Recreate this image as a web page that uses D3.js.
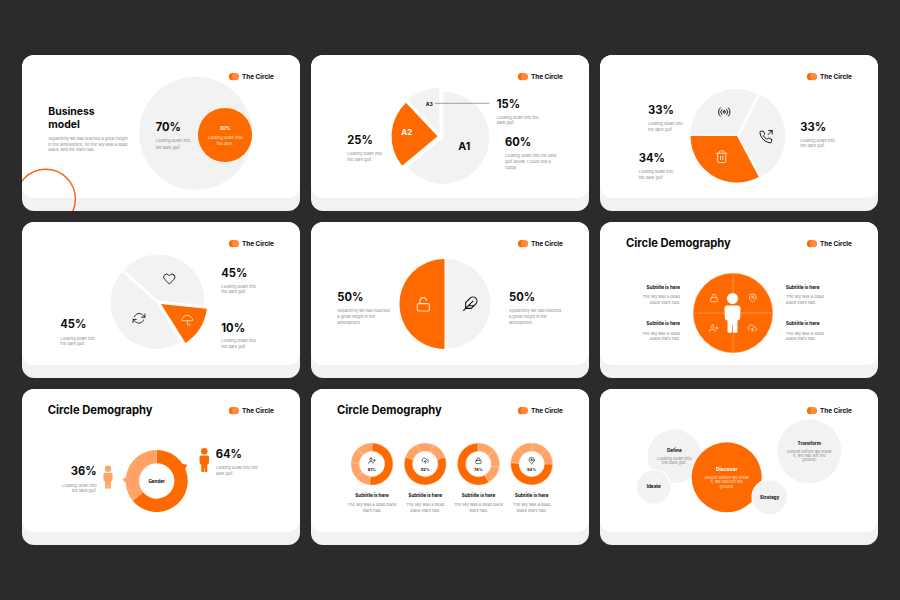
<!DOCTYPE html>
<html>
<head>
<meta charset="utf-8">
<script src="https://cdn.jsdelivr.net/npm/d3@7"></script>
<style>
  html, body { margin: 0; background: #2b2b2b; }
  svg { display: block; }
  text { font-family: Inter, "Noto Sans", sans-serif; }
</style>
</head>
<body>
<div id="chart"></div>
<script>
// values. slice shares are the drawn sweep, which is not
// always the same as the printed percentage
const businessShares = [100, 23];
const businessLabels = ["70%", "30%"];
const abcShares = [64, 24, 12];
const abcNames = ["A1", "A2", "A3"];
const abcLabels = ["60%", "25%", "15%"];
const threeShares = [32.5, 34.7, 32.8];
const threeLabels = ["33%", "33%", "34%"];
const heartShares = [40, 14.4, 45.6];
const heartLabels = ["45%", "10%", "45%"];
const halfShares = [50, 50];
const halfLabels = ["50%", "50%"];
const quarterShares = [25, 25, 25, 25];
const genderShares = [64, 36];
const genderLabels = ["64%", "36%"];
const ringStarts = [0, 70, 150, 90];
const ringSlices = [
  [52, 12, 12, 12, 12],
  [61, 13, 13, 13],
  [58, 14, 14, 14],
  [51, 12.25, 12.25, 12.25, 12.25]
];
const ringLabels = ["61%", "52%", "74%", "54%"];
const bubbleNames = ["Define", "Ideate", "Discover", "Strategy", "Transform"];
const bubbleWeights = [713, 300, 1225, 313, 1024];

const ORANGE = "#ff6a00", LIGHT = "#ffa366", GREY = "#f2f2f2", INK = "#0a0a0a", MUTED = "#8a8a8a";

const colX = [22, 311, 600];
const rowY = [55, 222, 389];

const ICONS = {
  heart: "M20.84 4.61a5.5 5.5 0 0 0-7.78 0L12 5.67l-1.06-1.06a5.5 5.5 0 0 0-7.78 7.78l1.06 1.06L12 21.23l7.78-7.78 1.06-1.06a5.5 5.5 0 0 0 0-7.78z",
  phone: "M23 7 23 1 17 1M16 8 23 1M22 16.92v3a2 2 0 0 1-2.18 2 19.79 19.79 0 0 1-8.63-3.07 19.5 19.5 0 0 1-6-6 19.79 19.79 0 0 1-3.07-8.67A2 2 0 0 1 4.11 2h3a2 2 0 0 1 2 1.72 12.84 12.84 0 0 0 .7 2.81 2 2 0 0 1-.45 2.11L8.09 9.91a16 16 0 0 0 6 6l1.27-1.27a2 2 0 0 1 2.11-.45 12.84 12.84 0 0 0 2.81.7A2 2 0 0 1 22 16.92z",
  trash: "M3 6h18M19 6v14a2 2 0 0 1-2 2H7a2 2 0 0 1-2-2V6m3 0V4a2 2 0 0 1 2-2h4a2 2 0 0 1 2 2v2M10 11v6M14 11v6",
  lock: "M5 11h14a2 2 0 0 1 2 2v7a2 2 0 0 1-2 2H5a2 2 0 0 1-2-2v-7a2 2 0 0 1 2-2zM7 11V7a5 5 0 0 1 10 0v4",
  unlock: "M5 11h14a2 2 0 0 1 2 2v7a2 2 0 0 1-2 2H5a2 2 0 0 1-2-2v-7a2 2 0 0 1 2-2zM7 11V7a5 5 0 0 1 9.9-1",
  feather: "M20.24 12.24a6 6 0 0 0-8.49-8.49L5 10.5V19h8.5zM16 8 2 22M17.5 15H9",
  refresh: "M23 4v6h-6M1 20v-6h6M3.51 9a9 9 0 0 1 14.85-3.36L23 10M1 14l4.64 4.36A9 9 0 0 0 20.49 15",
  umbrella: "M23 12a11.05 11.05 0 0 0-22 0zm-5 7a3 3 0 0 1-6 0v-7",
  pin: "M21 10c0 7-9 13-9 13s-9-6-9-13a9 9 0 0 1 18 0zM12 7a3 3 0 1 0 0 6 3 3 0 0 0 0-6z",
  user: "M16 21v-2a4 4 0 0 0-4-4H5a4 4 0 0 0-4 4v2M8.5 3a4 4 0 1 0 0 8 4 4 0 0 0 0-8zM20 8v6M23 11h-6",
  cloud: "M16 16l-4-4-4 4M12 12v9M20.39 18.39A5 5 0 0 0 18 9h-1.26A8 8 0 1 0 3 16.3",
  radio: "M12 10a2 2 0 1 0 0 4 2 2 0 0 0 0-4zM16.24 7.76a6 6 0 0 1 0 8.49M7.76 16.24a6 6 0 0 1 0-8.49M19.07 4.93a10 10 0 0 1 0 14.14M4.93 19.07a10 10 0 0 1 0-14.14"
};

const svg = d3.select("#chart").append("svg").attr("width", 900).attr("height", 600);
const rad = d => d * Math.PI / 180;

function label(x, y, str, size, opts = {}) {
  return svg.append("text")
    .attr("x", x).attr("y", y)
    .attr("dominant-baseline", "central")
    .attr("text-anchor", opts.anchor || "start")
    .attr("font-size", size)
    .attr("font-weight", opts.weight || 400)
    .attr("fill", opts.fill || INK)
    .text(str);
}

// lines get their own y, the picture has uneven leading after downscaling
function body(x, ys, lines, opts = {}) {
  lines.forEach((l, i) => label(x, ys[i], l, opts.size || 4, { fill: MUTED, ...opts }));
}

function stat(x, y, str, anchor) {
  label(x, y, str, 11.2, { weight: 700, anchor });
}

function title(x, y) {
  label(x, y, "Circle Demography", 11.2, { weight: 700 });
}

function icon(name, x, y, size, color, width = 1.6) {
  const k = size / 24;
  svg.append("path")
    .attr("d", ICONS[name])
    .attr("transform", `translate(${x - size / 2},${y - size / 2}) scale(${k})`)
    .attr("fill", "none")
    .attr("stroke", color)
    .attr("stroke-width", width)
    .attr("stroke-linecap", "round")
    .attr("stroke-linejoin", "round");
}

// head at the origin, body below it
function person(x, y, k, color) {
  const g = svg.append("g").attr("transform", `translate(${x},${y}) scale(${k})`).attr("fill", color);
  g.append("circle").attr("r", 5.5);
  g.append("path").attr("d", "M-5 7H5Q8 7 8 10L7.6 20Q7 22 5 22L5 33.5Q2.5 35.5 .4 33.5L.4 27H-.4L-.4 33.5Q-2.5 35.5-5 33.5L-5 22Q-7 22-7.6 20L-8 10Q-8 7-5 7Z");
  return g;
}

function pie(cx, cy, radius, shares, start, colors, opts = {}) {
  const arcs = d3.pie().sort(null).value(d => d)
    .startAngle(rad(start)).endAngle(rad(start + 360))(shares);
  const arc = d3.arc().innerRadius(opts.inner || 0).outerRadius(radius);
  const explode = opts.explode || shares.map(() => 0);
  svg.append("g").attr("transform", `translate(${cx},${cy})`)
    .selectAll("path").data(arcs).join("path")
    .attr("d", arc)
    .attr("fill", (d, i) => colors[i])
    .attr("stroke", opts.stroke || "none")
    .attr("stroke-width", opts.strokeWidth || 0)
    .attr("transform", (d, i) => {
      const mid = (d.startAngle + d.endAngle) / 2;
      return `translate(${Math.sin(mid) * explode[i]},${-Math.cos(mid) * explode[i]})`;
    });
}

// cards
const defs = svg.append("defs");
rowY.forEach((y, r) => colX.forEach((x, c) => {
  svg.append("rect").attr("x", x).attr("y", y).attr("width", 278).attr("height", 156).attr("rx", 12).attr("fill", GREY);
  svg.append("rect").attr("x", x).attr("y", y).attr("width", 278).attr("height", 143).attr("rx", 12).attr("fill", "#fff");
  svg.append("circle").attr("cx", x + 210.5).attr("cy", y + 21.7).attr("r", 3.6).attr("fill", ORANGE);
  svg.append("circle").attr("cx", x + 213.5).attr("cy", y + 21.7).attr("r", 3.6).attr("fill", "#ff8a3c");
  label(x + 220, y + 21.7, "The Circle", 6.4, { weight: 700 });
}));

// card 1
defs.append("clipPath").attr("id", "card1").append("rect")
  .attr("x", colX[0]).attr("y", rowY[0]).attr("width", 278).attr("height", 156).attr("rx", 12);
svg.append("circle").attr("cx", 45.7).attr("cy", 199).attr("r", 29.7)
  .attr("fill", "none").attr("stroke", "#f2611a").attr("stroke-width", 1.4)
  .attr("clip-path", "url(#card1)");
label(48.3, 111.7, "Business", 10.4, { weight: 700 });
label(48.3, 124, "model", 10.4, { weight: 700 });
body(48.3, [138, 144, 149.7], ["Apparently we had reached a great height", "in the atmosphere, for the sky was a dead", "black, and the stars had."]);
const businessR = d3.scaleSqrt().domain([0, 100]).range([0, 56.5]);
svg.append("circle").attr("cx", 195.7).attr("cy", 133.3).attr("r", businessR(businessShares[0])).attr("fill", GREY);
svg.append("circle").attr("cx", 225).attr("cy", 135).attr("r", businessR(businessShares[1])).attr("fill", ORANGE);
stat(155.7, 127, businessLabels[0]);
body(155.7, [140.7, 147], ["Looking down into", "the dark gulf."]);
label(225, 128.3, businessLabels[1], 4.6, { weight: 700, fill: "#fff", anchor: "middle" });
body(225, [137.7, 143.7], ["Looking down into", "the dark."], { anchor: "middle", fill: "#ffe3cf" });

// card 2
pie(440.5, 136.5, 46, abcShares, 0, [GREY, ORANGE, GREY], { explode: [3, 3, 3] });
label(464.3, 146, abcNames[0], 10.6, { weight: 700, anchor: "middle" });
label(406.7, 131.7, abcNames[1], 8, { weight: 700, fill: "#fff", anchor: "middle" });
label(429.3, 103.7, abcNames[2], 5, { weight: 700, anchor: "middle" });
svg.append("line").attr("x1", 435).attr("x2", 489.3).attr("y1", 103.3).attr("y2", 103.3).attr("stroke", "#666").attr("stroke-width", .6);
stat(496.7, 103.7, abcLabels[2]);
body(496.7, [117, 122.7], ["Looking down into the", "dark gulf."]);
stat(347.3, 140, abcLabels[1]);
body(347.3, [153.3, 159], ["Looking down into", "the dark gulf."]);
stat(505, 142.3, abcLabels[0]);
body(505, [155.7, 161.7, 167.3], ["Looking down into the dark", "gulf below. I could see a", "ruddy."]);

// card 3
pie(737, 136, 46.5, threeShares, 270, [GREY, GREY, ORANGE], { explode: [0.6, 2, 0] });
icon("radio", 724.3, 112, 14, INK);
icon("phone", 765.7, 137, 14, INK);
icon("trash", 721.7, 156.7, 14, "#ffe3cf");
stat(648, 110, threeLabels[0]);
body(648, [123.7, 129.7], ["Looking down into", "the dark gulf."]);
stat(800.3, 126.7, threeLabels[1]);
body(800.3, [140, 145.7], ["Looking down into", "the dark gulf."]);
stat(638.7, 157.7, threeLabels[2]);
body(638.7, [171.3, 177], ["Looking down into", "the dark gulf."]);

// card 4
pie(157.6, 301.9, 46, heartShares, 312, [GREY, ORANGE, GREY], { explode: [1.5, 4, 1.5] });
icon("heart", 169.3, 279, 13, INK);
icon("refresh", 139, 318.3, 13, INK);
icon("umbrella", 187.3, 320.3, 12, "#ffe3cf");
stat(221.3, 272.7, heartLabels[0]);
body(221.3, [286, 291.7], ["Looking down into", "the dark gulf."]);
stat(221.3, 327.7, heartLabels[1]);
body(221.3, [340.7, 346.7], ["Looking down into", "the dark gulf."]);
stat(60.3, 324.3, heartLabels[2]);
body(60.3, [338, 343.7], ["Looking down into", "the dark gulf."]);

// card 5
pie(445, 304, 45, halfShares, 0, [GREY, ORANGE], { explode: [.5, .5] });
icon("unlock", 423.3, 304.3, 16, "#ffe3cf");
icon("feather", 470.3, 303.7, 16, INK);
const halfBody = ["Apparently we had reached", "a great height in the", "atmosphere."];
stat(337.3, 297, halfLabels[0]);
body(337.3, [310.3, 316.3, 322], halfBody);
stat(509, 297, halfLabels[1]);
body(509, [310.3, 316.3, 322], halfBody);

// card 6
title(626, 243.3);
pie(733, 313, 39.7, quarterShares, 0, [ORANGE, ORANGE, ORANGE, ORANGE], { stroke: "#ff9d5c", strokeWidth: .6 });
icon("lock", 714, 298, 9, "#ffe3cf", 2);
icon("pin", 752.7, 298, 9, "#ffe3cf", 2);
icon("user", 713.7, 328.3, 9, "#ffe3cf", 2);
icon("cloud", 752.3, 328.3, 9, "#ffe3cf", 2);
person(732.5, 298.5, 1, "#fff");
[[287.3, 296.7, 302.3], [323.7, 333, 338.7]].forEach(ys => {
  label(680, ys[0], "Subtitle is here", 4.6, { weight: 700, anchor: "end" });
  body(680, ys.slice(1), ["The sky was a dead", "black stars had."], { anchor: "end" });
  label(786, ys[0], "Subtitle is here", 4.6, { weight: 700 });
  body(786, ys.slice(1), ["The sky was a dead", "black stars had."]);
});

// card 7
title(47.7, 410.3);
pie(156.7, 481, 31, genderShares, 0, [ORANGE, LIGHT], { inner: 17.7 });
[[62, ORANGE], [272, LIGHT]].forEach(([deg, color]) => {
  const pts = [[deg, 34.5], [deg - 7, 30], [deg + 7, 30]].map(p => d3.pointRadial(rad(p[0]), p[1]));
  svg.append("path").attr("d", d3.line()(pts) + "Z").attr("fill", color)
    .attr("transform", "translate(156.7,481)");
});
label(156.7, 481.3, "Gender", 4.6, { weight: 700, anchor: "middle" });
person(108, 468.7, .58, LIGHT);
person(204.3, 451.3, .6, ORANGE);
stat(96.7, 471.3, genderLabels[1], "end");
body(96.7, [485, 490.7], ["Looking down into", "the dark gulf."], { anchor: "end" });
stat(215.7, 454, genderLabels[0]);
body(215.7, [467, 473], ["Looking down into the", "dark gulf."]);

// card 8
title(337, 410.3);
const ringX = d3.scalePoint().domain(d3.range(4)).range([372, 531.7]);
const ringIcons = ["user", "cloud", "lock", "pin"];
const ringBody = [
  ["The sky was a dead black", "stars had."],
  ["The sky was a dead", "black stars had."],
  ["The sky was a dead black", "stars had."],
  ["The sky was a dead", "black stars had."]
];
ringSlices.forEach((slices, i) => {
  const x = ringX(i);
  pie(x, 464, 21, slices, ringStarts[i], slices.map((d, j) => j === 0 ? ORANGE : LIGHT),
    { inner: 12.7, stroke: "#ffd9c0", strokeWidth: .4 });
  icon(ringIcons[i], x, 460.7, 7, INK, 2);
  label(x, 469, ringLabels[i], 4, { weight: 700, anchor: "middle" });
  label(x, 495.3, "Subtitle is here", 4.6, { weight: 700, anchor: "middle" });
  body(x, [504.7, 510.3], ringBody[i], { anchor: "middle" });
});

// card 9
const bubbleR = d3.scaleSqrt().domain([0, 1225]).range([0, 35]);
const bubbleX = [674.3, 653.7, 726.7, 769.7, 809.3];
const bubbleY = [456.3, 487, 477.3, 497.3, 451.3];
bubbleWeights.forEach((w, i) => {
  const isMain = bubbleNames[i] === "Discover";
  const c = svg.append("circle").attr("cx", bubbleX[i]).attr("cy", bubbleY[i]).attr("r", bubbleR(w))
    .attr("fill", isMain ? ORANGE : GREY);
  if (bubbleNames[i] === "Ideate" || bubbleNames[i] === "Strategy") c.attr("stroke", "#fff").attr("stroke-width", 1.2);
});
label(674.3, 450, bubbleNames[0], 4.6, { weight: 700, anchor: "middle" });
body(674.3, [458, 462.3], ["Looking down into", "the dark gulf."], { anchor: "middle" });
label(653.7, 486.3, bubbleNames[1], 4.6, { weight: 700, anchor: "middle" });
label(726.7, 469.3, bubbleNames[2], 5, { weight: 700, anchor: "middle", fill: "#fff" });
body(726.7, [477.3, 481.7, 486.3], ["Almost before we knew", "it, we had left the", "ground."], { anchor: "middle", fill: "#ffe3cf" });
label(769.7, 497.3, bubbleNames[3], 4.6, { weight: 700, anchor: "middle" });
label(809.3, 443, bubbleNames[4], 4.6, { weight: 700, anchor: "middle" });
body(809.3, [451, 455.3, 459.7], ["Almost before we knew", "it, we had left the", "ground."], { anchor: "middle" });
</script>
</body>
</html>
